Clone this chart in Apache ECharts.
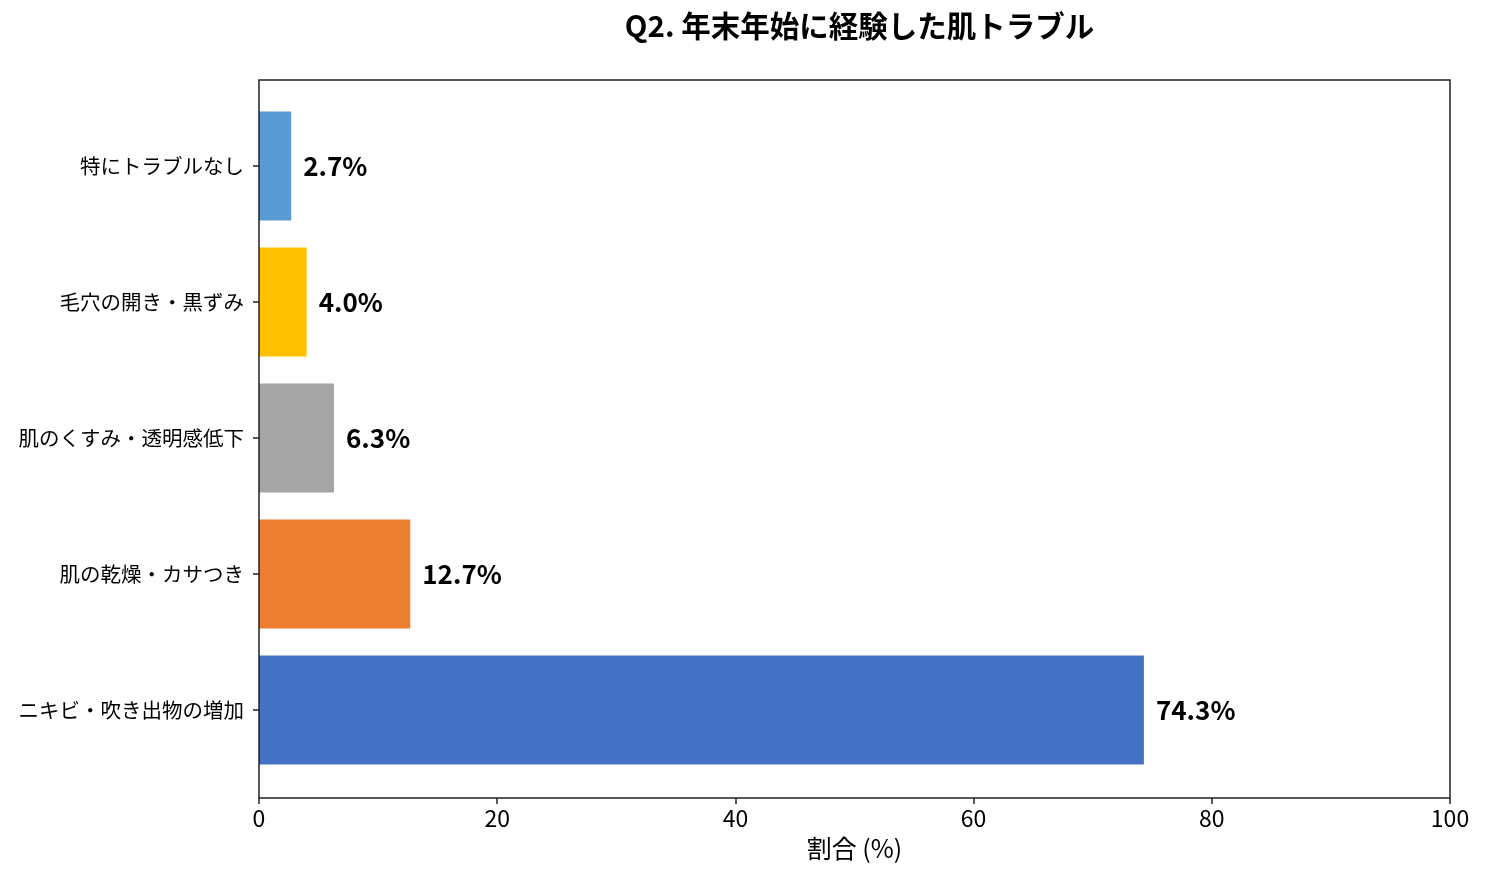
<!DOCTYPE html>
<html>
<head>
<meta charset="utf-8">
<script src="https://cdn.jsdelivr.net/npm/echarts@6/dist/echarts.min.js"></script>
<style>html,body{margin:0;padding:0;background:#fff}#c{width:1485px;height:881px}</style>
</head>
<body>
<div id="c"></div>
<script>
const categories = ['ニキビ・吹き出物の増加', '肌の乾燥・カサつき', '肌のくすみ・透明感低下', '毛穴の開き・黒ずみ', '特にトラブルなし'];
const values = [74.3, 12.7, 6.3, 4.0, 2.7];
const barColors = ['#4472C4', '#ED7D31', '#A5A5A5', '#FFC000', '#5B9BD5'];
const xTicks = [0, 20, 40, 60, 80, 100];
const titleText = 'Q2. 年末年始に経験した肌トラブル';
const xName = '割合 (%)';

const FONT = '"Noto Sans CJK JP", "Noto Sans", sans-serif';
const chart = echarts.init(document.getElementById('c'), null, {renderer: 'canvas'});
chart.setOption({
  animation: false,
  backgroundColor: '#fff',
  title: {
    text: titleText, left: 854.5, top: 6, textAlign: 'center',
    textStyle: {fontFamily: FONT, fontSize: 29.5, fontWeight: 'bold', color: '#000'}
  },
  grid: {left: 259, right: 35, top: 98, bottom: 103, containLabel: false},
  graphic: [{
    type: 'rect', shape: {x: 259, y: 80, width: 1191, height: 718},
    style: {fill: 'none', stroke: '#222', lineWidth: 1.5}, z: 10, silent: true
  }],
  xAxis: {
    type: 'value', min: xTicks[0], max: xTicks[xTicks.length - 1], interval: 20,
    offset: 20,
    axisLine: {show: false},
    axisTick: {show: true, length: 6, lineStyle: {color: '#222', width: 1.5}},
    splitLine: {show: false},
    axisLabel: {fontFamily: FONT, fontSize: 23, color: '#000', margin: 9},
    name: xName, nameLocation: 'middle', nameGap: 38,
    nameTextStyle: {fontFamily: FONT, fontSize: 25, color: '#000'}
  },
  yAxis: {
    type: 'category', data: categories,
    axisLine: {show: false},
    axisTick: {show: true, alignWithLabel: true, length: 6, lineStyle: {color: '#222', width: 1.5}},
    axisLabel: {fontFamily: FONT, fontSize: 20.5, color: '#000', margin: 15}
  },
  series: [{
    type: 'bar', barWidth: 109,
    data: values.map((v, i) => ({value: v, itemStyle: {color: barColors[i]}})),
    label: {
      show: true, position: 'right', distance: 12,
      formatter: p => p.value.toFixed(1) + '%',
      fontFamily: FONT, fontSize: 26, fontWeight: 'bold', color: '#000'
    }
  }]
});
</script>
</body>
</html>
